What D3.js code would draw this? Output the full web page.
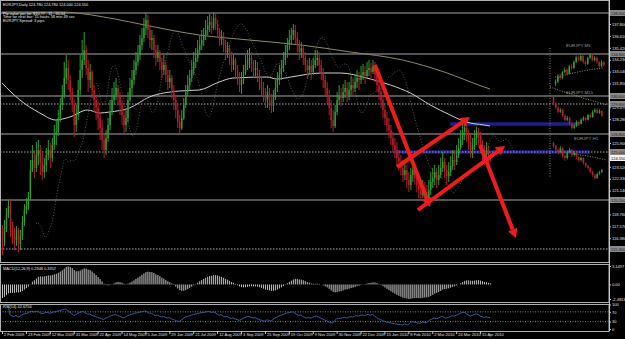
<!DOCTYPE html>
<html>
<head>
<meta charset="utf-8">
<script src="https://cdn.jsdelivr.net/npm/d3@7"></script>
<style>
html, body { margin: 0; padding: 0; background: #000; overflow: hidden; }
svg { display: block; }
text { font-family: "Liberation Sans", Arial, sans-serif; }
</style>
</head>
<body>
<svg id="chart" width="625" height="339"></svg>
<script>
// ---- EURJPY daily bars (one per bar) ----
const closes = [116.2,117.4,118.8,119.6,117.2,116.6,116.2,117.2,115.8,116.6,
118.0,119.2,119.6,120.4,123.2,124.2,123.4,124.7,125.2,124.0,
123.0,123.7,124.7,125.2,124.4,125.7,126.7,127.0,128.4,129.7,
130.7,132.4,133.4,132.2,131.0,129.7,127.7,128.7,131.2,133.2,
134.2,135.2,133.4,132.2,133.0,131.2,130.2,129.4,128.4,127.4,
126.2,125.2,126.4,127.7,129.0,130.2,130.7,131.4,130.6,129.7,
128.7,127.7,128.4,130.2,131.4,132.2,133.2,134.0,134.7,135.7,
136.4,137.4,138.2,137.2,136.2,136.4,135.2,134.4,135.0,134.0,
133.2,133.7,132.7,132.0,132.4,131.2,130.2,129.2,128.0,127.4,
128.4,129.7,131.0,131.7,132.4,133.2,134.0,134.4,135.2,135.7,
136.2,136.7,137.2,137.7,138.0,137.4,138.4,137.8,137.0,136.2,
136.6,135.7,135.0,135.4,134.4,133.7,134.2,133.2,132.4,131.7,
132.2,133.0,133.7,134.2,134.4,133.7,133.2,133.4,132.7,132.0,
131.4,130.7,130.2,131.0,130.2,129.6,130.4,131.4,132.2,132.8,
133.4,134.2,135.0,135.7,136.2,136.7,137.2,136.4,135.7,135.0,
135.4,134.4,133.7,133.2,133.6,133.0,133.7,134.2,134.4,133.7,
133.0,132.2,131.4,130.7,129.4,128.2,127.6,129.0,130.2,130.7,
130.4,131.0,131.4,130.7,131.2,131.7,131.4,132.0,132.4,132.2,
132.7,133.0,132.6,133.2,133.4,133.0,133.6,132.7,131.7,131.0,
130.2,129.2,128.4,127.7,127.2,126.4,125.7,125.2,124.4,124.0,
123.4,122.7,123.2,122.2,121.7,122.7,123.2,122.4,121.7,121.2,
120.7,121.4,121.0,120.4,121.2,122.0,122.4,123.0,122.2,122.7,
123.4,124.0,123.2,122.6,123.0,123.6,124.2,124.0,124.7,125.4,
126.2,127.0,127.4,126.7,126.0,125.2,125.7,126.4,127.0,126.6,
125.7,125.2,124.7,125.2,124.78,124.55];

const highs = [117.7,118.2,119.4,120.2,120.2,118.0,117.4,117.6,117.4,117.2,
118.6,119.8,120.4,121.0,124.2,125.7,125.2,126.0,126.2,125.7,
125.0,124.4,125.4,126.2,125.9,126.4,127.7,128.2,129.2,130.4,
131.7,134.0,134.7,134.2,132.7,131.4,130.2,129.7,132.2,134.7,
136.2,137.0,135.7,134.2,133.8,133.2,131.7,130.6,130.0,129.0,
128.2,126.7,127.2,128.4,130.2,131.4,132.0,132.4,131.7,131.0,
130.2,129.2,129.2,131.0,132.4,133.2,134.2,135.0,135.7,136.7,
137.4,138.4,138.9,138.7,137.7,137.2,136.7,135.7,135.7,135.2,
134.4,134.7,134.0,133.2,133.2,132.7,131.7,130.7,129.7,128.7,
129.2,130.4,131.7,132.7,133.2,134.2,135.0,135.4,136.2,136.7,
137.2,137.4,138.2,138.6,138.8,138.6,139.0,139.0,138.2,137.4,
137.2,137.0,136.2,136.0,135.7,135.0,134.7,134.4,133.7,133.0,
133.0,133.7,134.7,135.2,135.4,135.0,134.2,134.2,134.0,133.2,
132.6,132.0,131.4,131.7,131.4,130.8,131.2,132.2,133.0,133.7,
134.2,135.0,135.7,136.4,137.2,137.4,137.8,137.7,137.0,136.2,
136.0,135.7,135.0,134.2,134.4,134.2,134.4,135.2,135.2,135.0,
134.2,133.4,132.7,132.0,131.2,130.2,129.2,129.7,131.0,131.7,
131.4,131.8,132.2,132.0,132.0,132.6,132.4,132.8,133.2,133.0,
133.6,133.8,133.6,134.0,134.2,133.9,134.2,134.0,133.2,132.2,
131.4,130.7,129.7,129.0,128.4,127.7,127.0,126.4,126.0,125.2,
124.7,124.2,124.0,123.7,123.0,123.4,124.2,123.7,123.0,122.4,
122.0,122.2,122.0,121.7,122.2,123.0,123.4,123.7,123.4,123.7,
124.4,125.0,124.4,123.7,124.0,124.6,125.2,125.2,125.7,126.4,
127.2,127.8,128.0,127.9,127.2,126.7,126.4,127.2,127.5,127.4,
127.0,126.2,125.7,126.0,125.6,124.78];

const lows = [114.7,115.6,117.0,118.4,116.5,115.8,115.2,115.6,115.0,115.2,
116.2,117.6,118.8,119.2,120.2,123.0,122.4,123.0,123.7,122.7,
122.2,122.4,123.0,124.2,123.4,124.0,125.2,125.7,126.6,128.0,
129.2,130.4,131.8,131.2,130.2,129.0,126.5,127.0,128.2,130.7,
132.4,133.7,132.7,131.0,131.4,130.4,129.0,128.2,127.2,126.2,
125.2,124.4,124.7,126.0,127.2,128.7,129.7,130.2,129.7,128.7,
127.7,126.9,127.0,128.0,130.0,130.7,131.7,132.7,133.6,134.2,
135.2,136.0,136.7,136.4,135.4,135.2,134.4,133.6,134.0,133.2,
132.4,132.7,132.0,131.2,131.4,130.4,129.2,128.4,127.4,126.9,
127.2,128.2,129.4,130.7,131.2,132.0,132.7,133.4,134.0,134.7,
135.2,135.6,136.2,136.7,137.0,136.8,137.2,137.2,136.4,135.6,
135.7,135.0,134.2,134.4,133.7,133.0,133.2,132.4,131.7,131.0,
130.8,131.8,132.7,133.2,133.4,133.0,132.4,132.6,132.0,131.2,
130.7,130.0,129.4,129.4,129.2,128.9,129.0,130.2,131.0,131.7,
132.2,133.0,133.7,134.4,135.2,135.7,136.2,135.8,135.0,134.2,
134.4,133.7,133.0,132.4,132.7,132.2,132.7,133.4,133.6,133.0,
132.2,131.4,130.6,129.7,128.7,127.4,127.0,127.4,128.7,129.7,
129.6,130.0,130.4,130.0,130.2,130.7,130.6,131.0,131.4,131.2,
131.8,132.2,131.8,132.4,132.6,132.2,132.8,132.0,131.0,130.2,
129.4,128.4,127.7,127.0,126.4,125.7,125.0,124.4,123.7,123.2,
122.7,122.0,122.2,121.4,121.0,121.2,122.0,121.7,121.0,120.4,
120.2,120.4,120.2,119.9,120.0,120.7,121.4,121.7,121.4,121.7,
122.4,123.0,122.4,121.7,122.0,122.6,123.2,123.2,123.7,124.4,
125.2,125.7,126.2,126.0,125.2,124.4,124.4,125.2,125.7,125.7,
125.0,124.2,123.7,124.2,123.7,124.0];

const firstOpen = 117.0;

// moving averages drawn on the main window: [bar, price]
const maWhite = [[0,131.9],[9,130.2],[19,128.9],[27,128.2],[34,128.5],[43,129.2],[49,128.9],[54,129.0],
  [64,129.4],[74,130.5],[89,131.1],[99,131.2],[109,132.0],[116,132.4],[133,132.5],[138,132.3],[145,132.5],
  [160,132.9],[170,132.9],[183,132.4],[195,131.7],[205,130.9],[215,129.7],[225,128.7],[233,128.0],[242,127.7],[245,127.6]];
const maKhaki = [[0,139.0],[29,139.0],[54,138.4],[74,137.6],[99,136.7],[124,136.2],[150,135.7],[175,135.0],
  [201,134.2],[222,133.0],[242,131.5],[245,131.3]];
const shiftPeriod = 5, shiftBars = 13;

// drawn levels
const levelsSolid = [138.9, 134.8, 130.6, 126.8, 120.2];
const levelsDotted = [129.8, 125.0, 115.3];
const blueLevels = [[127.8, 225, 290], [125.0, 197, 295]];
const lastPrice = 124.55;

// red arrows: [fromBar, fromPrice, toBar, toPrice, head]
const arrows = [
  [187.2, 133.7, 214.9, 119.5, true],
  [198.3, 123.5, 234.9, 128.5, true],
  [208.8, 119.2, 252.5, 125.6, true],
  [240.0, 125.7, 258.0, 116.4, true]
];

// axis labels (the ones hidden under the level boxes are left out)
const priceTicks = [137.80,136.61,135.42,134.23,133.04,131.85,129.47,128.28,
  125.90,123.52,122.33,121.14,118.76,117.57,116.38];
const dateLabels = ["2 Feb 2009","23 Feb 2009","12 Mar 2009","31 Mar 2009","22 Apr 2009","14 May 2009",
  "5 Jun 2009","29 Jun 2009","21 Jul 2009","12 Aug 2009","3 Sep 2009","25 Sep 2009","19 Oct 2009",
  "9 Nov 2009","30 Nov 2009","22 Dec 2009","15 Jan 2010","8 Feb 2010","2 Mar 2010","24 Mar 2010","15 Apr 2010"];
const macdTicks = [3.1497, 0, -2.4813];
const macdTickText = ["3.1497", "0.00", "-2.4813"];
const rsiTicks = [100, 70, 30, 0];
const macdSeed = [117.3, 119.7]; // fast / slow EMA at the left edge
const headerLines = ["EURJPY,Daily  124.780 124.780 124.000 124.550",
  "Pip value per lot: $10.77 , 11 , 60.64",
  "Time for next bar: 15 hours 58 min 49 sec",
  "EURJPY Spread: 3 pips"];

// small pasted charts on the right
const m5 = { open: 124.28,
  close: [124.32,124.42,124.38,124.48,124.52,124.45,124.58,124.55,124.65,124.73,124.68,124.75,124.65,124.62,124.72,124.77,124.68,124.72,124.65,124.58,124.65,124.60],
  high:  [124.36,124.45,124.46,124.50,124.56,124.55,124.60,124.62,124.68,124.76,124.76,124.78,124.77,124.68,124.74,124.80,124.79,124.75,124.74,124.67,124.68,124.67],
  low:   [124.25,124.30,124.35,124.36,124.46,124.42,124.44,124.52,124.53,124.63,124.66,124.66,124.62,124.58,124.60,124.70,124.66,124.66,124.62,124.55,124.56,124.57],
  ma: [[0,124.40],[6,124.45],[12,124.50],[21,124.55]] };
const m15 = { open: 124.95,
  close: [124.78,124.68,124.58,124.63,124.48,124.38,124.43,124.28,124.18,124.23,124.33,124.28,124.38,124.43,124.38,124.50,124.45,124.58,124.63,124.55,124.60,124.48],
  high:  [124.98,124.82,124.72,124.68,124.66,124.52,124.48,124.46,124.32,124.28,124.37,124.36,124.42,124.47,124.46,124.53,124.54,124.62,124.67,124.66,124.64,124.62],
  low:   [124.74,124.64,124.54,124.55,124.44,124.34,124.35,124.24,124.12,124.15,124.20,124.24,124.26,124.35,124.34,124.36,124.42,124.43,124.55,124.52,124.53,124.45],
  ma: [[-1.3,125.2],[11.7,124.95],[23.5,124.75]] };
const h1 = { open: 124.90,
  close: [124.80,124.67,124.60,124.73,124.47,124.40,124.60,124.67,124.50,124.57,124.43,124.33,124.40,124.23,124.13,124.07,123.93,123.83,123.73,123.87,123.93,124.00],
  high:  [124.95,124.84,124.72,124.80,124.77,124.53,124.65,124.73,124.70,124.63,124.60,124.47,124.45,124.43,124.27,124.17,124.10,123.97,123.87,123.92,123.97,124.03],
  low:   [124.75,124.60,124.52,124.55,124.40,124.30,124.35,124.55,124.43,124.45,124.37,124.27,124.28,124.18,124.07,124.00,123.88,123.78,123.68,123.70,123.83,123.90],
  ma: [[9.6,124.53],[16,124.45],[23.5,124.33]] };

// ---- layout ----
const svg = d3.select("#chart");
const axisX = 609;
const bull = "#2f9e36", bear = "#b3202a", grid = "#a8a8a8";

const x = d3.scaleLinear().domain([0, 300]).range([2, 2 + 300 * 1.992]);
const y = d3.scaleLinear().domain([140.2, 114.0]).range([0, 262]);
const macdY = d3.scaleLinear().domain([3.1497, -2.4813]).range([266, 299]);
const rsiY = d3.scaleLinear().domain([100, 0]).range([304.5, 329]);

const bars = closes.map((c, i) => ({
  i, c, o: i === 0 ? firstOpen : closes[i - 1], h: highs[i], l: lows[i]
}));

svg.append("rect").attr("width", 625).attr("height", 339).attr("fill", "#000");

svg.append("clipPath").attr("id", "mainClip")
  .append("rect").attr("x", 0).attr("y", 0).attr("width", axisX).attr("height", 262);
svg.append("clipPath").attr("id", "macdClip")
  .append("rect").attr("x", 0).attr("y", 264).attr("width", axisX).attr("height", 38);
svg.append("clipPath").attr("id", "rsiClip")
  .append("rect").attr("x", 0).attr("y", 304).attr("width", axisX).attr("height", 27);

const main = svg.append("g").attr("clip-path", "url(#mainClip)");

// level lines
main.selectAll(".lvl").data(levelsSolid).enter().append("line")
  .attr("x1", 0).attr("x2", axisX).attr("y1", d => y(d)).attr("y2", d => y(d))
  .attr("stroke", grid).attr("stroke-width", 1.2);
main.selectAll(".blue").data(blueLevels).enter().append("line")
  .attr("x1", d => x(d[1])).attr("x2", d => x(d[2])).attr("y1", d => y(d[0])).attr("y2", d => y(d[0]))
  .attr("stroke", "#1e1e8c").attr("stroke-width", 3.5);
main.selectAll(".lvlDot").data(levelsDotted).enter().append("line")
  .attr("x1", 0).attr("x2", axisX).attr("y1", d => y(d)).attr("y2", d => y(d))
  .attr("stroke", grid).attr("stroke-width", 1).attr("stroke-dasharray", "1.5,1.5");

// moving averages
const maLine = d3.line().x(d => x(d[0])).y(d => y(d[1])).curve(d3.curveMonotoneX);
main.append("path").attr("d", maLine(maKhaki)).attr("fill", "none")
  .attr("stroke", "#8a8a6a").attr("stroke-width", 1);
main.append("path").attr("d", maLine(maWhite)).attr("fill", "none")
  .attr("stroke", "#cfcfcf").attr("stroke-width", 1);

// displaced short average, dotted
const shifted = [];
for (let i = shiftPeriod - 1; i < closes.length; i++) {
  shifted.push([i + shiftBars, d3.mean(closes.slice(i - shiftPeriod + 1, i + 1))]);
}
main.append("path").attr("d", d3.line().x(d => x(d[0])).y(d => y(d[1]))(shifted))
  .attr("fill", "none").attr("stroke", "#7a7a7a").attr("stroke-width", 0.7)
  .attr("stroke-dasharray", "1,1.8");

// candles
const candle = main.append("g");
candle.selectAll("line").data(bars).enter().append("line")
  .attr("x1", d => x(d.i) + 0.5).attr("x2", d => x(d.i) + 0.5)
  .attr("y1", d => y(Math.max(d.h, d.o, d.c))).attr("y2", d => y(Math.min(d.l, d.o, d.c)))
  .attr("stroke", d => d.c >= d.o ? bull : bear).attr("stroke-width", 1);
candle.selectAll("rect").data(bars).enter().append("rect")
  .attr("x", d => x(d.i) - 0.2).attr("width", 1.4)
  .attr("y", d => y(Math.max(d.o, d.c)))
  .attr("height", d => Math.max(0.8, Math.abs(y(d.o) - y(d.c))))
  .attr("fill", d => d.c >= d.o ? bull : bear);

// pasted lower-timeframe charts
function drawInset(cfg, data) {
  const g = main.append("g");
  const ix = d3.scaleLinear().domain([0, 1]).range([cfg.left, cfg.left + 2.3]);
  const iy = d3.scaleLinear().domain(cfg.domain).range(cfg.range);
  const ib = data.close.map((c, i) => ({ i, c, o: i === 0 ? data.open : data.close[i - 1], h: data.high[i], l: data.low[i] }));
  g.append("path").attr("d", d3.line().x(d => ix(d[0])).y(d => iy(d[1])).curve(d3.curveMonotoneX)(data.ma))
    .attr("fill", "none").attr("stroke", "#b4b48c").attr("stroke-width", 0.8).attr("stroke-dasharray", "1,1.5");
  g.selectAll("line.w").data(ib).enter().append("line")
    .attr("x1", d => ix(d.i) + 0.5).attr("x2", d => ix(d.i) + 0.5)
    .attr("y1", d => iy(d.h)).attr("y2", d => iy(d.l))
    .attr("stroke", d => d.c >= d.o ? bull : bear).attr("stroke-width", 0.8);
  g.selectAll("rect").data(ib).enter().append("rect")
    .attr("x", d => ix(d.i) - 0.3).attr("width", 1.6)
    .attr("y", d => iy(Math.max(d.o, d.c)))
    .attr("height", d => Math.max(0.8, Math.abs(iy(d.o) - iy(d.c))))
    .attr("fill", d => d.c >= d.o ? bull : bear);
  g.append("text").attr("x", cfg.label[0]).attr("y", cfg.label[1])
    .attr("fill", "#9a9a9a").attr("font-size", 4.4).text(cfg.title);
}
main.append("line").attr("x1", 550).attr("x2", 550).attr("y1", 48).attr("y2", 177)
  .attr("stroke", "#9a9a9a").attr("stroke-width", 0.8).attr("stroke-dasharray", "1,1.5");
drawInset({ left: 555, domain: [124.85, 124.25], range: [50, 86], label: [566, 47], title: "EURJPY M5" }, m5);
drawInset({ left: 553, domain: [125.0, 124.0], range: [95, 135], label: [566, 93.5], title: "EURJPY M15" }, m15);
drawInset({ left: 553, domain: [125.0, 123.667], range: [140, 180], label: [574, 139.5], title: "EURJPY H1" }, h1);

// red arrows
const arrowG = main.append("g");
arrows.forEach(a => {
  const x0 = x(a[0]), y0 = y(a[1]), x1 = x(a[2]), y1 = y(a[3]);
  const ang = Math.atan2(y1 - y0, x1 - x0), L = 9, hw = 5;
  const bx = x1 - L * Math.cos(ang), by = y1 - L * Math.sin(ang);
  arrowG.append("line").attr("x1", x0).attr("y1", y0)
    .attr("x2", a[4] ? bx : x1).attr("y2", a[4] ? by : y1)
    .attr("stroke", "#ee1c1c").attr("stroke-width", 4);
  if (a[4]) {
    arrowG.append("polygon")
      .attr("points", [[x1, y1], [bx + hw * Math.sin(ang), by - hw * Math.cos(ang)], [bx - hw * Math.sin(ang), by + hw * Math.cos(ang)]].join(" "))
      .attr("fill", "#ee1c1c");
  }
});

// header
svg.selectAll(".hdr").data(headerLines).enter().append("text")
  .attr("x", 3).attr("y", (d, k) => [6, 14.5, 18, 21.5][k])
  .attr("fill", "#e8e8e8").attr("font-size", 3.9).text(d => d);

// ---- MACD ----
const kf = 2 / 13, ks = 2 / 27;
let ef = macdSeed[0], es = macdSeed[1];
const macd = closes.map(c => { ef = c * kf + ef * (1 - kf); es = c * ks + es * (1 - ks); return ef - es; });
const macdG = svg.append("g").attr("clip-path", "url(#macdClip)");
macdG.selectAll("line").data(macd).enter().append("line")
  .attr("x1", (d, i) => x(i) + 0.5).attr("x2", (d, i) => x(i) + 0.5)
  .attr("y1", macdY(0)).attr("y2", d => macdY(d))
  .attr("stroke", "#c4c4c4").attr("stroke-width", 1);
svg.append("text").attr("x", 3).attr("y", 269.5).attr("fill", "#e0e0e0").attr("font-size", 3.9)
  .text("MACD(12,26,9) 0.2948 0.3357");

// ---- RSI ----
const rsiPeriod = 14;
let ag = 0, al = 0;
const rsi = [];
for (let i = 1; i < closes.length; i++) {
  const ch = closes[i] - closes[i - 1];
  const n = Math.min(i, rsiPeriod);
  ag = (ag * (n - 1) + Math.max(ch, 0)) / n;
  al = (al * (n - 1) + Math.max(-ch, 0)) / n;
  rsi.push([i, al === 0 ? 100 : 100 - 100 / (1 + ag / al)]);
}
const rsiG = svg.append("g").attr("clip-path", "url(#rsiClip)");
rsiG.selectAll(".rl").data([70, 30]).enter().append("line")
  .attr("x1", 0).attr("x2", axisX).attr("y1", d => rsiY(d)).attr("y2", d => rsiY(d))
  .attr("stroke", grid).attr("stroke-width", 0.8).attr("stroke-dasharray", "1,1.5");
rsiG.append("path").attr("d", d3.line().x(d => x(d[0])).y(d => rsiY(d[1]))(rsi))
  .attr("fill", "none").attr("stroke", "#3d62b0").attr("stroke-width", 0.9);
svg.append("text").attr("x", 3).attr("y", 308).attr("fill", "#e0e0e0").attr("font-size", 3.9)
  .text("RSI(14) 42.6756");

// ---- frames ----
[[0, 262], [264, 302], [304, 331]].forEach(p => {
  svg.append("rect").attr("x", 0.5).attr("y", p[0] + 0.5).attr("width", axisX - 0.5).attr("height", p[1] - p[0])
    .attr("fill", "none").attr("stroke", "#b0b0b0").attr("stroke-width", 1);
});

// ---- axes ----
const styleAxis = g => {
  g.select(".domain").remove();
  g.selectAll("line").attr("stroke", "#c8c8c8");
  g.selectAll("text").attr("fill", "#e0e0e0").attr("font-size", 4).attr("font-family", "Liberation Sans, Arial, sans-serif");
};
svg.append("g").attr("transform", `translate(${axisX},0)`)
  .call(d3.axisRight(y).tickValues(priceTicks).tickSize(2).tickPadding(1).tickFormat(d3.format(".3f")))
  .call(styleAxis);

// boxed prices of the drawn levels and the last price
const boxes = levelsSolid.concat(levelsDotted);
const boxG = svg.append("g");
boxG.selectAll("rect").data(boxes).enter().append("rect")
  .attr("x", axisX + 1).attr("y", d => y(d) - 3).attr("width", 15).attr("height", 6).attr("fill", "#8a8a8a");
boxG.selectAll("text").data(boxes).enter().append("text")
  .attr("x", axisX + 2).attr("y", d => y(d) + 1.5).attr("font-size", 4).attr("fill", "#1a1a1a")
  .text(d => d3.format(".3f")(d));
// last price box sits just under the 125.000 level box
const lastY = Math.max(y(lastPrice), y(125.0) + 6);
boxG.append("rect").attr("x", axisX + 1).attr("y", lastY - 3).attr("width", 15).attr("height", 6).attr("fill", "#f4f4f4");
boxG.append("text").attr("x", axisX + 2).attr("y", lastY + 1.5).attr("font-size", 4).attr("fill", "#000")
  .text(d3.format(".3f")(lastPrice));

svg.append("g").attr("transform", `translate(${axisX},0)`)
  .call(d3.axisRight(macdY).tickValues(macdTicks).tickSize(2).tickPadding(1).tickFormat((d, k) => macdTickText[k]))
  .call(styleAxis);
svg.append("g").attr("transform", `translate(${axisX},0)`)
  .call(d3.axisRight(rsiY).tickValues(rsiTicks).tickSize(2).tickPadding(1))
  .call(styleAxis);

svg.append("line").attr("x1", axisX + 0.5).attr("x2", axisX + 0.5).attr("y1", 0).attr("y2", 331)
  .attr("stroke", "#c8c8c8").attr("stroke-width", 1);

const xAxisG = svg.append("g").attr("transform", "translate(0,331)")
  .call(d3.axisBottom(x).tickValues(d3.range(0, 241, 12)).tickSize(3).tickFormat((d, k) => dateLabels[k]))
  .call(styleAxis);
xAxisG.selectAll("text").attr("text-anchor", "start").attr("x", 1.5).attr("y", 2);
</script>
</body>
</html>
